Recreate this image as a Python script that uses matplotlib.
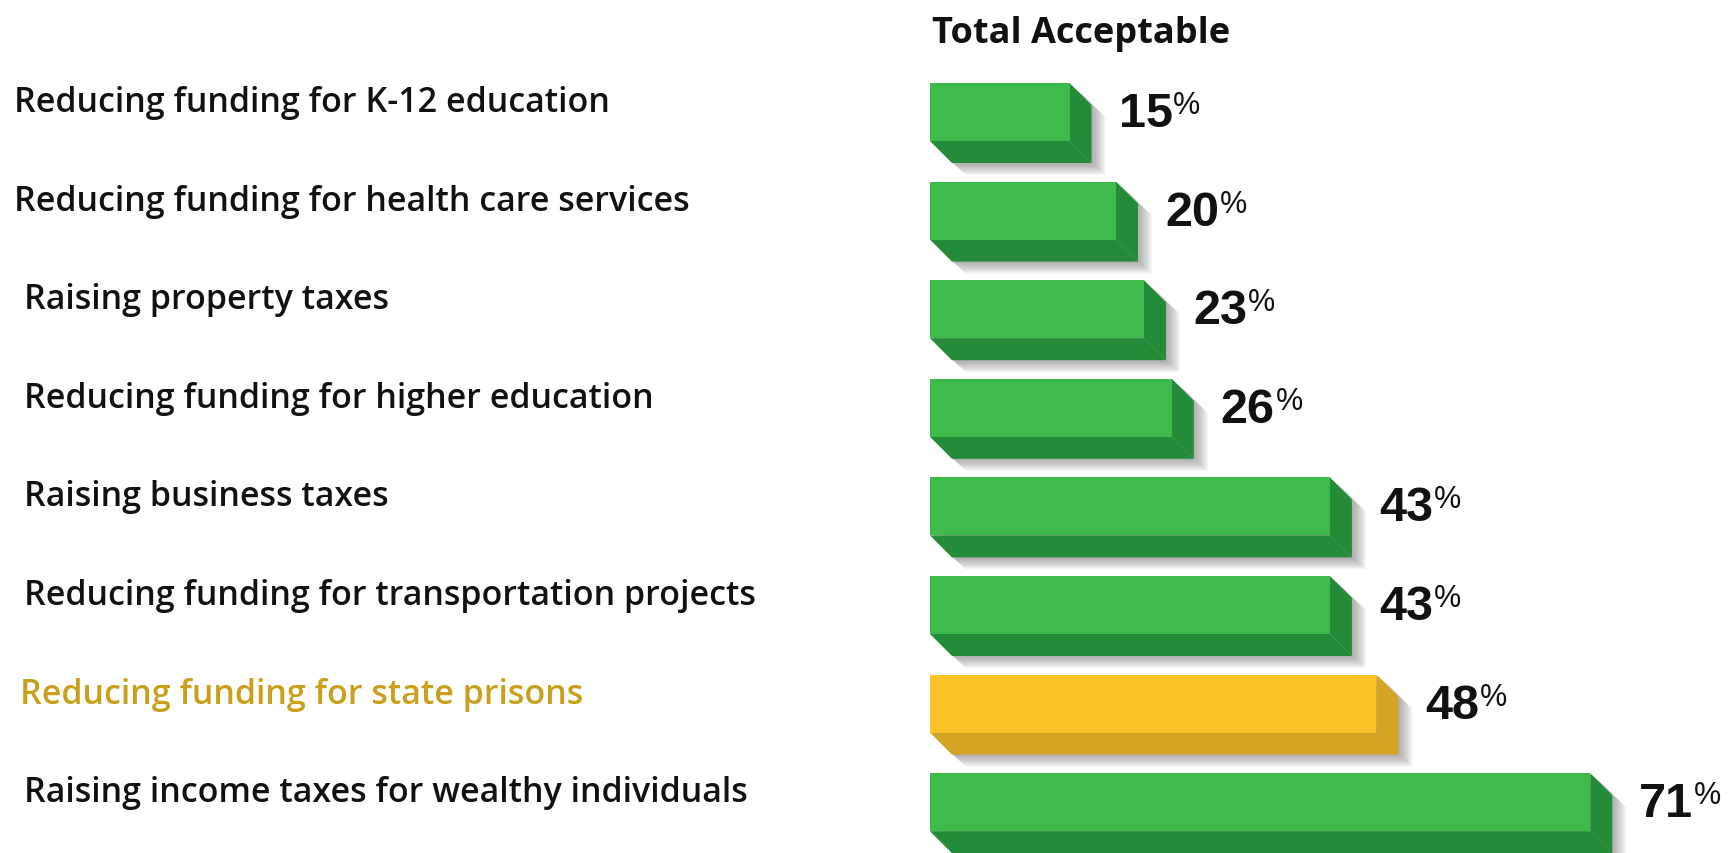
import matplotlib
matplotlib.use("Agg")
import matplotlib.pyplot as plt
from matplotlib.patches import Polygon
from matplotlib.transforms import blended_transform_factory

# Survey data: share of respondents finding each option acceptable
categories = [
    "Reducing funding for K-12 education",
    "Reducing funding for health care services",
    "Raising property taxes",
    "Reducing funding for higher education",
    "Raising business taxes",
    "Reducing funding for transportation projects",
    "Reducing funding for state prisons",
    "Raising income taxes for wealthy individuals",
]
values = [15, 20, 23, 26, 43, 43, 48, 71]
highlight = "Reducing funding for state prisons"
title = "Total Acceptable"

# Styling
W, H, DPI = 1729, 854, 100
GREEN_FRONT, GREEN_DARK = "#3dba4b", "#248b38"
GOLD_FRONT, GOLD_DARK = "#fbc327", "#d6a423"
GOLD_TEXT = "#c99f1b"
INK = "#111111"
LABEL_FONT = ["Open Sans", "Lato", "DejaVu Sans"]
VALUE_FONT = ["Liberation Sans", "DejaVu Sans"]

PX_PER_UNIT_X = 9.3      # pixels per percentage point
ROW_PX = 98.6            # vertical spacing of rows in pixels
TOP_PX = 84              # top of first bar (pixels from top)
X0_PX = 930              # pixel position of the 0% baseline
FACE_PX = 58             # height of the front face
DEPTH_PX = 22            # 3-D depth offset
LABEL_X_PX = [14, 14, 24, 24, 24, 24, 20, 24]

fig = plt.figure(figsize=(W / DPI, H / DPI), dpi=DPI)
fig.patch.set_facecolor("white")

ax = fig.add_axes([X0_PX / W, 0, 1 - X0_PX / W, 1])
ax.set_xlim(0, (W - X0_PX) / PX_PER_UNIT_X)
ax.set_ylim((H - TOP_PX) / ROW_PX, -TOP_PX / ROW_PX)
ax.axis("off")

face_h = FACE_PX / ROW_PX
dx = DEPTH_PX / PX_PER_UNIT_X
dy = DEPTH_PX / ROW_PX

for i, (cat, v) in enumerate(zip(categories, values)):
    hi = cat == highlight
    front = GOLD_FRONT if hi else GREEN_FRONT
    dark = GOLD_DARK if hi else GREEN_DARK
    top, mid = i, i + face_h

    # soft drop shadow
    sil = [(0, mid), (0, top), (v, top), (v + dx, top + dy),
           (v + dx, mid + dy), (dx, mid + dy)]
    for k in range(1, 11):
        ox, oy = k * 1.4 / PX_PER_UNIT_X, k * 1.2 / ROW_PX
        ax.add_patch(Polygon([(x + ox, y + oy) for x, y in sil],
                             closed=True, facecolor="#6a6a6a",
                             edgecolor="none", alpha=0.065, zorder=1))

    # bottom bevel and right side
    ax.add_patch(Polygon([(0, mid), (v, mid), (v + dx, mid + dy), (dx, mid + dy)],
                         closed=True, facecolor=dark, edgecolor="none", zorder=2))
    ax.add_patch(Polygon([(v, top), (v + dx, top + dy), (v + dx, mid + dy), (v, mid)],
                         closed=True, facecolor=dark, edgecolor="none", zorder=2))
    # front face
    ax.barh(top + face_h / 2, v, height=face_h, left=0, color=front,
            edgecolor="none", zorder=3)

    # value label, with a raised percent sign
    t = ax.text(v + dx + 27 / PX_PER_UNIT_X, top + 43 / ROW_PX, f"{v}",
                ha="left", va="baseline", fontsize=35, fontweight="bold",
                family=VALUE_FONT, color=INK, zorder=4)
    ax.annotate("%", xy=(1, top + 30 / ROW_PX), xycoords=(t, "data"),
                xytext=(0.5, 0), textcoords="offset points",
                ha="left", va="baseline", fontsize=22,
                family=VALUE_FONT, color=INK, zorder=4)

# category labels on the left
lab_tr = blended_transform_factory(fig.transFigure, ax.transData)
for i, cat in enumerate(categories):
    hi = cat == highlight
    ax.text(LABEL_X_PX[i] / W, i + 28 / ROW_PX, cat, transform=lab_tr,
            ha="left", va="baseline", fontsize=24.5, fontweight="semibold",
            family=LABEL_FONT,
            color=GOLD_TEXT if hi else INK)

# column header
fig.text(932 / W, 1 - 43 / H, title, ha="left", va="baseline",
         fontsize=26, fontweight="bold", family=LABEL_FONT, color=INK)

fig.savefig("out.png", dpi=DPI, facecolor="white")
